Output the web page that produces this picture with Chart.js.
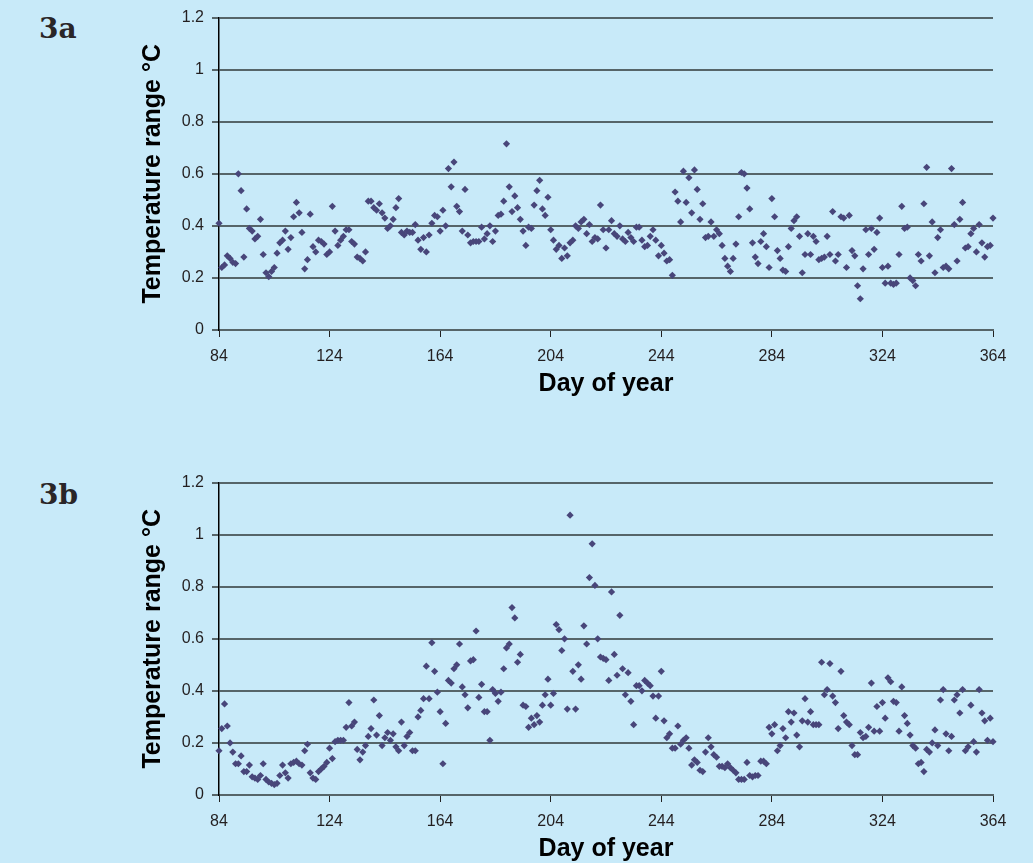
<!DOCTYPE html>
<html>
<head>
<meta charset="utf-8">
<script src="https://cdn.jsdelivr.net/npm/chart.js@4.4.1/dist/chart.umd.min.js"></script>
<style>
  html, body { margin: 0; padding: 0; }
  body {
    width: 1033px;
    height: 863px;
    overflow: hidden;
    background: #c8eaf9;
    position: relative;
    font-family: 'Liberation Sans', Arial, sans-serif;
  }
  .panel-label {
    position: absolute;
    left: 39px;
    font-family: 'DejaVu Serif', serif;
    font-weight: bold;
    font-size: 28px;
    color: #2a2628;
  }
  .chart-box {
    position: absolute;
    left: 0;
    width: 1033px;
    height: 410px;
  }
</style>
</head>
<body>
  <div class="panel-label" style="top: 12px;">3a</div>
  <div class="panel-label" style="top: 478px;">3b</div>
  <div class="chart-box" style="top: 0;"><canvas id="chart-3a"></canvas></div>
  <div class="chart-box" style="top: 465px;"><canvas id="chart-3b"></canvas></div>

<script>
// day of year for the first value in each series (one value per day up to 364)
const firstDay = 84;
const lastDay = 364;
const dayTicks = [84, 124, 164, 204, 244, 284, 324, 364];
const rangeTicks = [0, 0.2, 0.4, 0.6, 0.8, 1, 1.2];

// 3a temperature range, days 84-364
const rangeA = [
  0.41, 0.24, 0.25, 0.285, 0.275, 0.26, 0.255, 0.60, 0.535, 0.28,
  0.465, 0.39, 0.38, 0.35, 0.36, 0.425, 0.29, 0.22, 0.205, 0.225,
  0.24, 0.295, 0.335, 0.345, 0.38, 0.31, 0.355, 0.435, 0.49, 0.45,
  0.375, 0.235, 0.27, 0.445, 0.32, 0.30, 0.345, 0.34, 0.33, 0.29,
  0.30, 0.475, 0.38, 0.325, 0.345, 0.36, 0.385, 0.385, 0.34, 0.33,
  0.28, 0.275, 0.265, 0.30, 0.495, 0.495, 0.47, 0.46, 0.485, 0.45,
  0.43, 0.39, 0.40, 0.425, 0.47, 0.505, 0.375, 0.365, 0.38, 0.375,
  0.375, 0.405, 0.345, 0.31, 0.355, 0.30, 0.365, 0.41, 0.44, 0.435,
  0.38, 0.46, 0.40, 0.62, 0.55, 0.645, 0.475, 0.455, 0.38, 0.54,
  0.365, 0.335, 0.34, 0.34, 0.34, 0.395, 0.35, 0.37, 0.40, 0.34,
  0.38, 0.44, 0.445, 0.495, 0.715, 0.55, 0.455, 0.515, 0.47, 0.425,
  0.38, 0.325, 0.395, 0.39, 0.48, 0.535, 0.575, 0.465, 0.44, 0.51,
  0.385, 0.345, 0.31, 0.325, 0.275, 0.315, 0.285, 0.335, 0.345, 0.40,
  0.39, 0.415, 0.425, 0.37, 0.405, 0.34, 0.355, 0.35, 0.48, 0.385,
  0.315, 0.385, 0.42, 0.37, 0.36, 0.40, 0.35, 0.34, 0.375, 0.355,
  0.34, 0.395, 0.395, 0.345, 0.32, 0.325, 0.36, 0.385, 0.345, 0.285,
  0.325, 0.295, 0.265, 0.27, 0.21, 0.53, 0.495, 0.415, 0.61, 0.49,
  0.585, 0.45, 0.615, 0.54, 0.425, 0.485, 0.355, 0.36, 0.415, 0.36,
  0.385, 0.37, 0.325, 0.275, 0.245, 0.225, 0.275, 0.33, 0.435, 0.605,
  0.60, 0.545, 0.465, 0.335, 0.28, 0.255, 0.34, 0.37, 0.32, 0.24,
  0.505, 0.435, 0.305, 0.275, 0.23, 0.225, 0.32, 0.39, 0.42, 0.435,
  0.36, 0.22, 0.29, 0.37, 0.29, 0.36, 0.34, 0.27, 0.275, 0.28,
  0.36, 0.29, 0.455, 0.265, 0.29, 0.435, 0.43, 0.24, 0.44, 0.305,
  0.285, 0.17, 0.12, 0.235, 0.385, 0.29, 0.39, 0.31, 0.375, 0.43,
  0.24, 0.18, 0.245, 0.18, 0.175, 0.18, 0.29, 0.475, 0.39, 0.395,
  0.20, 0.19, 0.17, 0.29, 0.265, 0.485, 0.625, 0.285, 0.415, 0.22,
  0.355, 0.385, 0.24, 0.245, 0.235, 0.62, 0.405, 0.265, 0.425, 0.49,
  0.315, 0.32, 0.37, 0.39, 0.30, 0.405, 0.335, 0.28, 0.32, 0.325,
  0.43
];

// 3b temperature range, days 84-364
const rangeB = [
  0.17, 0.255, 0.35, 0.265, 0.20, 0.165, 0.12, 0.12, 0.15, 0.09,
  0.09, 0.115, 0.07, 0.065, 0.06, 0.075, 0.12, 0.06, 0.05, 0.045,
  0.04, 0.045, 0.075, 0.115, 0.085, 0.065, 0.12, 0.125, 0.13, 0.12,
  0.115, 0.17, 0.195, 0.085, 0.065, 0.06, 0.09, 0.10, 0.11, 0.125,
  0.18, 0.14, 0.205, 0.21, 0.21, 0.21, 0.26, 0.355, 0.265, 0.28,
  0.175, 0.135, 0.165, 0.19, 0.225, 0.255, 0.365, 0.23, 0.305, 0.19,
  0.22, 0.24, 0.21, 0.235, 0.185, 0.17, 0.28, 0.19, 0.225, 0.24,
  0.17, 0.17, 0.30, 0.325, 0.37, 0.495, 0.37, 0.585, 0.475, 0.395,
  0.32, 0.12, 0.275, 0.44, 0.43, 0.485, 0.50, 0.58, 0.415, 0.385,
  0.335, 0.515, 0.52, 0.63, 0.375, 0.425, 0.32, 0.32, 0.21, 0.405,
  0.39, 0.36, 0.395, 0.485, 0.565, 0.58, 0.72, 0.68, 0.51, 0.54,
  0.345, 0.34, 0.26, 0.295, 0.27, 0.305, 0.28, 0.345, 0.385, 0.445,
  0.345, 0.39, 0.655, 0.635, 0.555, 0.60, 0.33, 1.075, 0.475, 0.33,
  0.50, 0.445, 0.65, 0.58, 0.835, 0.965, 0.805, 0.60, 0.53, 0.525,
  0.52, 0.44, 0.78, 0.54, 0.46, 0.69, 0.485, 0.385, 0.47, 0.36,
  0.27, 0.42, 0.42, 0.40, 0.44, 0.43, 0.42, 0.38, 0.295, 0.38,
  0.475, 0.285, 0.22, 0.235, 0.18, 0.18, 0.265, 0.195, 0.21, 0.22,
  0.18, 0.115, 0.135, 0.125, 0.095, 0.09, 0.165, 0.22, 0.185, 0.155,
  0.145, 0.11, 0.11, 0.105, 0.12, 0.105, 0.095, 0.085, 0.06, 0.06,
  0.06, 0.125, 0.075, 0.07, 0.075, 0.075, 0.13, 0.13, 0.12, 0.26,
  0.235, 0.27, 0.17, 0.19, 0.255, 0.22, 0.32, 0.28, 0.315, 0.23,
  0.185, 0.285, 0.37, 0.28, 0.32, 0.27, 0.27, 0.27, 0.51, 0.385,
  0.405, 0.505, 0.38, 0.355, 0.255, 0.475, 0.305, 0.28, 0.27, 0.19,
  0.155, 0.155, 0.24, 0.22, 0.225, 0.26, 0.43, 0.245, 0.34, 0.245,
  0.355, 0.295, 0.45, 0.435, 0.36, 0.355, 0.245, 0.415, 0.305, 0.275,
  0.23, 0.19, 0.18, 0.12, 0.125, 0.09, 0.175, 0.165, 0.20, 0.25,
  0.19, 0.365, 0.405, 0.235, 0.17, 0.225, 0.365, 0.385, 0.315, 0.405,
  0.17, 0.185, 0.345, 0.205, 0.165, 0.405, 0.315, 0.285, 0.21, 0.295,
  0.205
];

const markerColor = '#48467a';
const gridColor = '#566569';
const textColor = '#231f20';

renderRangeChart('chart-3a', rangeA);
renderRangeChart('chart-3b', rangeB);

function renderRangeChart(canvasId, values) {
  const ctx = document.getElementById(canvasId);
  if (!ctx) return;

  const points = values.map((v, i) => ({ x: firstDay + i, y: v }));

  new Chart(ctx, {
    type: 'scatter',
    data: {
      datasets: [
        {
          data: points,
          clip: false,
          pointStyle: 'rectRot',
          pointRadius: 3.6,
          pointHoverRadius: 3.6,
          pointBackgroundColor: markerColor,
          pointBorderColor: markerColor,
          pointBorderWidth: 0
        }
      ]
    },
    options: {
      responsive: true,
      maintainAspectRatio: false,
      animation: false,
      layout: {
        padding: { left: 130, right: 40, top: 17, bottom: 0 }
      },
      plugins: {
        legend: { display: false },
        tooltip: { enabled: false }
      },
      scales: {
        x: {
          type: 'linear',
          min: firstDay,
          max: lastDay,
          afterBuildTicks: (scale) => {
            scale.ticks = dayTicks.map((d) => ({ value: d }));
          },
          afterFit: (scale) => {
            scale.height = 80;
          },
          grid: {
            drawOnChartArea: false,
            drawTicks: true,
            tickLength: 7,
            color: '#222',
            lineWidth: 1
          },
          border: { display: true, color: gridColor, width: 2 },
          ticks: {
            padding: 10,
            color: textColor,
            font: { family: "'Liberation Sans', Arial, sans-serif", size: 16 }
          },
          title: {
            display: true,
            text: 'Day of year',
            color: '#000',
            padding: { top: 0, bottom: 11 },
            font: { family: "'Liberation Sans', Arial, sans-serif", size: 25, weight: 'bold' }
          }
        },
        y: {
          min: 0,
          max: 1.2,
          afterBuildTicks: (scale) => {
            scale.ticks = rangeTicks.map((v) => ({ value: v }));
          },
          afterFit: (scale) => {
            scale.width = 89;
          },
          grid: {
            color: gridColor,
            lineWidth: 2,
            tickLength: 7
          },
          border: { display: true, color: '#000', width: 1.5 },
          ticks: {
            padding: 8,
            color: textColor,
            font: { family: "'Liberation Sans', Arial, sans-serif", size: 16 },
            callback: (v) => String(Math.round(v * 10) / 10)
          },
          title: {
            display: true,
            text: 'Temperature range °C',
            color: '#000',
            padding: { top: 8, bottom: 0 },
            font: { family: "'Liberation Sans', Arial, sans-serif", size: 25, weight: 'bold' }
          }
        }
      }
    }
  });
}
</script>
</body>
</html>
